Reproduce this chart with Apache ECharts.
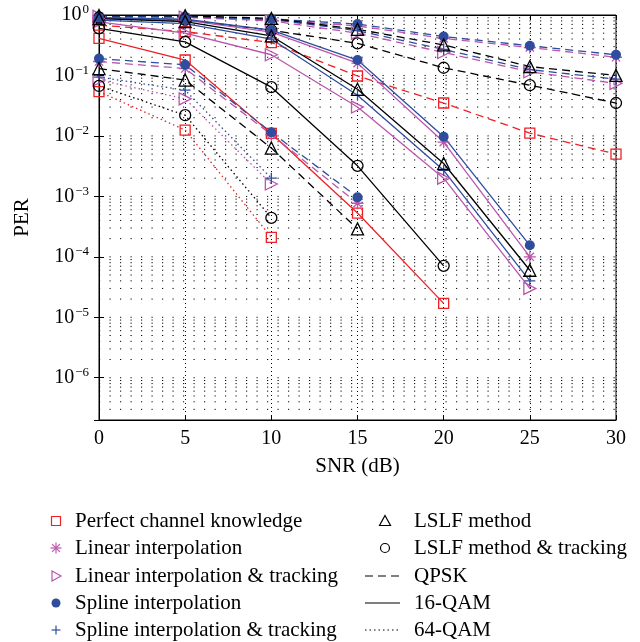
<!DOCTYPE html>
<html>
<head>
<meta charset="utf-8">
<script src="https://cdn.jsdelivr.net/npm/echarts@6/dist/echarts.min.js"></script>
<style>
    html, body {margin: 0; padding: 0; background: #fff;}
    #perChart {width: 640px; height: 642px;}
</style>
</head>
<body>
<div id="perChart"></div>
<script>
const snr = [0, 5, 10, 15, 20, 25, 30];

// dashed group, runs to 30 dB
const perfectQpsk = [0.68, 0.53, 0.35, 0.098, 0.035, 0.0111, 0.005];
const linearQpsk = [0.94, 0.92, 0.83, 0.66, 0.41, 0.29, 0.2];
const linearTrkQpsk = [0.95, 0.92, 0.8, 0.5, 0.24, 0.115, 0.074];
const splineQpsk = [0.95, 0.93, 0.86, 0.71, 0.44, 0.31, 0.22];
const splineTrkQpsk = [0.97, 0.95, 0.85, 0.55, 0.27, 0.125, 0.087];
const lslfQpsk = [0.98, 0.97, 0.88, 0.58, 0.32, 0.14, 0.10];
const lslfTrkQpsk = [0.9, 0.83, 0.56, 0.34, 0.134, 0.069, 0.035];

// solid group
const perfect16 = [0.41, 0.18, 0.011, 5.3e-4, 1.7e-5];
const linear16 = [0.88, 0.82, 0.52, 0.16, 7.9e-3, 1e-4];
const linearTrk16 = [0.77, 0.5, 0.22, 0.03, 2e-3, 3e-5];
const spline16 = [0.9, 0.85, 0.56, 0.18, 9.7e-3, 1.55e-4];
const splineTrk16 = [0.82, 0.72, 0.4, 0.047, 2.7e-3, 4e-5];
const lslf16 = [0.87, 0.78, 0.45, 0.059, 3.5e-3, 6e-5];
const lslfTrk16 = [0.6, 0.36, 0.064, 3.2e-3, 7.1e-5];

// low group (dotted + short dashed curves)
const perfect64 = [0.054, 0.0125, 2.1e-4];
const linearLow = [0.17, 0.13, 0.0105, 7.7e-4];
const linearTrk64 = [0.084, 0.041, 1.6e-3];
const splineLow = [0.19, 0.15, 0.0115, 9.7e-4];
const splineTrk64 = [0.094, 0.057, 2.0e-3];
const lslfLow = [0.13, 0.084, 6.3e-3, 2.9e-4];
const lslfTrk64 = [0.067, 0.022, 4.4e-4];

const RED = '#ec2228';
const MAG = '#bb55ad';
const BLUE = '#2e4d9e';
const BLACK = '#000';
const FONT = 'Liberation Serif';

const DASHED = [8, 5];
const DOTTED = [1.5, 3];

const ASTERISK = 'path://M5,0L5,10M0,5L10,5M1.6,1.6L8.4,8.4M8.4,1.6L1.6,8.4';
const PLUS = 'path://M5,0L5,10M0,5L10,5';
const RTRI = 'path://M0,0L10,5L0,10Z';

const markers = {
    perfect: {symbol: 'rect', size: 10, filled: false, color: RED},
    linear: {symbol: ASTERISK, size: 12, filled: false, color: MAG},
    linearTrk: {symbol: RTRI, size: 12, filled: false, color: MAG},
    spline: {symbol: 'circle', size: 10, filled: true, color: BLUE},
    splineTrk: {symbol: PLUS, size: 11, filled: false, color: BLUE},
    lslf: {symbol: 'triangle', size: 12, filled: false, color: BLACK},
    lslfTrk: {symbol: 'circle', size: 11, filled: false, color: BLACK}
};

function makeSeries(name, values, kind, dash) {
    const m = markers[kind];
    return {
        name: name,
        type: 'line',
        data: values.map((v, i) => [snr[i], v]),
        symbol: m.symbol,
        symbolSize: m.size,
        symbolKeepAspect: true,
        showAllSymbol: true,
        lineStyle: {color: m.color, width: 1.3, type: dash},
        itemStyle: {
            color: m.filled ? m.color : 'none',
            borderColor: m.color,
            borderWidth: m.filled ? 0 : 1.3
        },
        emphasis: {disabled: true},
        z: 3
    };
}

// horizontal dotted grid at every log tick (1..9 x 10^k)
const gridValues = [];
for (let d = -7; d <= -1; d++) {
    for (let k = 1; k <= 9; k++) {
        const v = k * Math.pow(10, d);
        if (v > 2.1e-7) gridValues.push(v);
    }
}
const gridSeries = gridValues.map(v => ({
    type: 'line',
    data: [[0, v], [30, v]],
    symbol: 'none',
    silent: true,
    z: 1,
    lineStyle: {color: '#000', width: 1, type: [1.2, 9.3]},
    emphasis: {disabled: true}
}));

const series = [
    makeSeries('perfectQpsk', perfectQpsk, 'perfect', DASHED),
    makeSeries('linearQpsk', linearQpsk, 'linear', DASHED),
    makeSeries('linearTrkQpsk', linearTrkQpsk, 'linearTrk', DASHED),
    makeSeries('splineQpsk', splineQpsk, 'spline', DASHED),
    makeSeries('splineTrkQpsk', splineTrkQpsk, 'splineTrk', DASHED),
    makeSeries('lslfQpsk', lslfQpsk, 'lslf', DASHED),
    makeSeries('lslfTrkQpsk', lslfTrkQpsk, 'lslfTrk', DASHED),

    makeSeries('perfect16', perfect16, 'perfect', 'solid'),
    makeSeries('linear16', linear16, 'linear', 'solid'),
    makeSeries('linearTrk16', linearTrk16, 'linearTrk', 'solid'),
    makeSeries('spline16', spline16, 'spline', 'solid'),
    makeSeries('splineTrk16', splineTrk16, 'splineTrk', 'solid'),
    makeSeries('lslf16', lslf16, 'lslf', 'solid'),
    makeSeries('lslfTrk16', lslfTrk16, 'lslfTrk', 'solid'),

    makeSeries('perfect64', perfect64, 'perfect', DOTTED),
    makeSeries('linearLow', linearLow, 'linear', DASHED),
    makeSeries('linearTrk64', linearTrk64, 'linearTrk', DOTTED),
    makeSeries('splineLow', splineLow, 'spline', DASHED),
    makeSeries('splineTrk64', splineTrk64, 'splineTrk', DOTTED),
    makeSeries('lslfLow', lslfLow, 'lslf', DASHED),
    makeSeries('lslfTrk64', lslfTrk64, 'lslfTrk', DOTTED)
].concat(gridSeries);

// legend, drawn by hand: two columns
const legendRows = [521, 548, 576, 603, 630];
const leftItems = [
    ['Perfect channel knowledge', 'perfect'],
    ['Linear interpolation', 'linear'],
    ['Linear interpolation & tracking', 'linearTrk'],
    ['Spline interpolation', 'spline'],
    ['Spline interpolation & tracking', 'splineTrk']
];
const rightItems = [
    ['LSLF method', 'lslf'],
    ['LSLF method & tracking', 'lslfTrk'],
    ['QPSK', DASHED],
    ['16-QAM', null],
    ['64-QAM', DOTTED]
];

function seg(x1, y1, x2, y2, st) {
    return {type: 'line', shape: {x1: x1, y1: y1, x2: x2, y2: y2}, style: st};
}

function legendIcon(kind, cx, cy) {
    const c = markers[kind].color;
    const st = {fill: 'none', stroke: c, lineWidth: 1.2};
    if (kind === 'perfect') return [{type: 'rect', shape: {x: cx - 4.5, y: cy - 4.5, width: 9, height: 9}, style: st}];
    if (kind === 'linear') return [
        seg(cx, cy - 5.5, cx, cy + 5.5, st), seg(cx - 5.5, cy, cx + 5.5, cy, st),
        seg(cx - 3.9, cy - 3.9, cx + 3.9, cy + 3.9, st), seg(cx + 3.9, cy - 3.9, cx - 3.9, cy + 3.9, st)
    ];
    if (kind === 'linearTrk') return [{type: 'polygon', shape: {points: [[cx - 4, cy - 5], [cx + 5, cy], [cx - 4, cy + 5]]}, style: st}];
    if (kind === 'spline') return [{type: 'circle', shape: {cx: cx, cy: cy, r: 4.5}, style: {fill: c}}];
    if (kind === 'splineTrk') return [seg(cx, cy - 4.5, cx, cy + 4.5, st), seg(cx - 4.5, cy, cx + 4.5, cy, st)];
    if (kind === 'lslf') return [{type: 'polygon', shape: {points: [[cx, cy - 5.5], [cx + 5.5, cy + 4.5], [cx - 5.5, cy + 4.5]]}, style: st}];
    return [{type: 'circle', shape: {cx: cx, cy: cy, r: 4.5}, style: st}];
}

function legendText(text, x, y) {
    return {
        type: 'text', x: x, y: y,
        style: {text: text, fill: '#000', fontSize: 21, fontFamily: FONT, align: 'left', verticalAlign: 'middle'}
    };
}

let legendElements = [];
leftItems.forEach((item, i) => {
    legendElements = legendElements.concat(legendIcon(item[1], 56, legendRows[i]));
    legendElements.push(legendText(item[0], 75, legendRows[i]));
});
rightItems.forEach((item, i) => {
    const y = legendRows[i];
    if (typeof item[1] === 'string') {
        legendElements = legendElements.concat(legendIcon(item[1], 385, y));
    } else {
        legendElements.push(seg(365, y, 400, y, {stroke: '#000', lineWidth: 1.2, lineDash: item[1] || null}));
    }
    legendElements.push(legendText(item[0], 414, y));
});

function powerLabel(v) {
    const e = Math.log10(v);
    const r = Math.round(e);
    if (Math.abs(e - r) > 1e-6) return '';
    return '{b|10}{s|' + (r < 0 ? '\u2212' + (-r) : r) + '}';
}

const chart = echarts.init(document.getElementById('perChart'), null, {renderer: 'canvas'});
chart.setOption({
    animation: false,
    backgroundColor: '#fff',
    textStyle: {fontFamily: FONT},
    grid: {left: 99, right: 24, top: 15, bottom: 222, show: true, borderColor: '#000', borderWidth: 1, containLabel: false},
    xAxis: [{
        type: 'value', min: 0, max: 30, interval: 5,
        name: 'SNR (dB)', nameLocation: 'middle', nameGap: 36,
        nameTextStyle: {fontSize: 21, fontFamily: FONT, color: '#000'},
        axisLine: {lineStyle: {color: '#000', width: 1}},
        axisTick: {inside: true, length: 5, lineStyle: {color: '#000'}},
        axisLabel: {fontSize: 20, fontFamily: FONT, color: '#000', margin: 9},
        splitLine: {show: true, lineStyle: {color: '#000', width: 1, type: [1, 3]}}
    }, {
        type: 'value', min: 0, max: 30, interval: 5, position: 'top',
        axisLine: {lineStyle: {color: '#000'}},
        axisTick: {inside: true, length: 5, lineStyle: {color: '#000'}},
        axisLabel: {show: false},
        splitLine: {show: false}
    }],
    yAxis: [{
        type: 'log', logBase: 10, min: 2e-7, max: 1,
        name: 'PER', nameLocation: 'middle', nameGap: 66,
        nameTextStyle: {fontSize: 21, fontFamily: FONT, color: '#000'},
        axisLine: {lineStyle: {color: '#000', width: 1}},
        axisTick: {inside: true, length: 5, lineStyle: {color: '#000'}},
        axisLabel: {
            margin: 10, color: '#000', fontFamily: FONT,
            formatter: powerLabel,
            rich: {
                b: {fontSize: 20, fontFamily: FONT, color: '#000'},
                s: {fontSize: 13, fontFamily: FONT, color: '#000', verticalAlign: 'top', padding: [0, 0, 10, 1]}
            }
        },
        splitLine: {show: false}
    }, {
        type: 'log', logBase: 10, min: 2e-7, max: 1, position: 'right',
        axisLine: {lineStyle: {color: '#000'}},
        axisTick: {inside: true, length: 5, lineStyle: {color: '#000'}},
        axisLabel: {show: false},
        splitLine: {show: false}
    }],
    series: series,
    graphic: {elements: legendElements}
});
</script>
</body>
</html>
